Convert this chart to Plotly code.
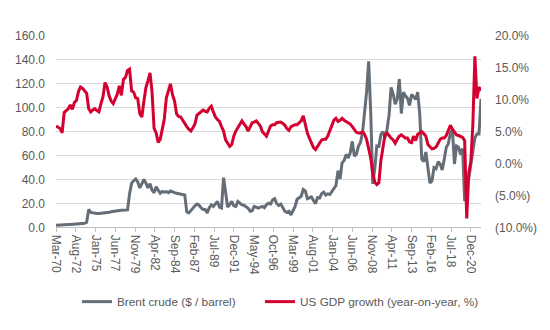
import pandas as pd
import plotly.graph_objects as go

# Quarterly values, Mar-1970 .. Mar-2022 (end of quarter)
brent = [
    1.8, 1.8, 1.9, 2.0,
    2.2, 2.3, 2.4, 2.5,
    2.6, 2.7, 2.8, 2.9,
    3.0, 3.2, 3.5, 4.3,
    15.0, 12.5, 12.0, 11.8,
    11.6, 11.6, 11.7, 11.8,
    12.0, 12.3, 12.6, 13.0,
    13.4, 13.7, 13.9, 14.1,
    14.3, 14.4, 14.5, 14.6,
    28.0, 37.0, 39.0, 40.5,
    38.0, 33.0, 36.5, 40.0,
    37.0, 33.0, 36.5, 31.0,
    29.0, 34.0, 31.0, 28.5,
    30.0, 29.5, 29.9, 29.0,
    30.4, 30.0, 29.0, 28.5,
    28.0, 27.7, 27.5, 27.0,
    13.0, 12.1, 14.0, 16.2,
    18.0, 19.5, 18.5, 16.2,
    15.0, 15.0, 12.1, 16.5,
    18.8, 17.5, 19.5, 21.7,
    17.0, 16.2, 41.6, 28.5,
    17.0, 19.0, 21.7, 18.0,
    17.5, 21.7, 20.5, 18.8,
    18.5, 17.5, 16.0, 13.5,
    14.0, 17.5, 16.5, 16.2,
    17.0, 17.5, 16.5, 19.0,
    20.2, 19.5, 23.0, 24.0,
    20.0, 18.3, 19.5, 17.0,
    13.5, 12.5, 13.5, 10.4,
    14.0, 17.5, 23.5, 25.0,
    26.0, 31.7, 30.5, 24.0,
    25.0, 25.4, 22.5, 19.9,
    25.0, 24.5, 28.2, 29.5,
    27.0, 28.0, 27.5, 30.0,
    32.3, 35.0, 47.3, 40.5,
    54.0, 56.0, 61.0, 58.0,
    62.4, 71.9, 59.6, 61.0,
    67.8, 71.0, 79.0, 94.0,
    113.0, 138.9, 96.5, 36.4,
    49.0, 68.0, 67.8, 77.5,
    80.0, 75.0, 82.0, 94.0,
    117.0, 111.6, 103.0, 107.5,
    123.9, 95.2, 113.0, 110.0,
    108.0, 102.0, 111.0, 109.3,
    107.0, 113.0, 95.0, 57.0,
    55.0, 63.0, 48.0, 37.0,
    39.0, 50.0, 49.0, 55.0,
    53.0, 48.0, 57.0, 67.0,
    70.0, 79.0, 81.5, 53.0,
    68.0, 67.0, 61.0, 66.0,
    22.0, 41.0, 41.0, 52.0,
    63.0, 75.0, 78.0, 78.0,
    107.5,
]

gdp_growth = [
    5.9, 5.7, 5.5, 4.8,
    8.0, 8.3, 8.6, 9.2,
    8.5, 9.6, 9.9, 11.3,
    12.0, 11.8, 11.4, 11.0,
    8.6, 8.1, 8.4, 8.6,
    8.3, 8.1, 9.4, 10.5,
    12.7, 12.0, 10.6, 9.8,
    9.4, 10.3, 10.9, 12.2,
    10.7, 13.2, 13.5, 14.6,
    14.8, 11.4, 11.2, 10.3,
    10.2, 7.8, 7.3, 9.8,
    11.9, 13.0, 14.2, 11.2,
    5.5, 4.8, 3.3, 3.8,
    5.5, 7.0, 10.3, 11.6,
    12.5, 10.8, 9.8, 7.8,
    7.4, 7.3, 6.8, 6.1,
    5.8, 5.4, 5.1, 5.6,
    6.2, 7.6, 7.9, 8.1,
    8.4, 8.2, 8.1, 8.7,
    9.0, 8.1, 7.3, 6.9,
    6.6, 5.8, 5.1, 3.7,
    3.2, 2.7, 3.0, 4.3,
    5.1, 5.6, 6.1, 6.7,
    6.2, 5.8, 5.1, 5.8,
    6.4, 6.5, 6.7, 6.3,
    5.9, 5.0, 4.6, 4.3,
    5.1, 5.9, 6.1, 6.1,
    6.4, 6.5, 6.5, 6.3,
    6.0, 5.5, 5.2, 5.8,
    6.0, 6.1, 6.1, 6.4,
    6.7, 7.5, 6.0, 4.8,
    4.0, 3.2, 2.5, 2.2,
    2.7, 3.2, 3.7, 3.8,
    3.8, 4.3, 5.2, 6.0,
    6.8, 7.1, 6.6, 6.8,
    7.1, 6.8, 6.6, 6.4,
    6.2, 5.8, 5.3, 4.9,
    4.8, 4.8, 5.0, 4.6,
    3.8, 2.5, 0.9, -1.5,
    -2.9, -3.3, -3.0, 0.5,
    2.8, 4.5, 4.8, 4.3,
    4.0, 3.7, 3.2, 3.8,
    4.3, 4.5, 4.3, 4.0,
    4.0, 3.4, 3.3, 4.3,
    3.6, 4.6, 4.8, 5.0,
    4.7, 4.3, 3.0, 2.6,
    2.3, 2.4, 2.6, 3.2,
    3.8, 4.0, 4.0, 4.4,
    5.2, 6.0, 5.4, 4.9,
    4.5, 4.4, 4.3, 4.1,
    3.6, -8.6, -1.5, 0.3,
    6.0, 16.8, 10.2, 12.0,
    11.4,
]

dates = pd.date_range("1970-03-01", periods=len(brent), freq="3MS")

right_tickvals = [-10, -5, 0, 5, 10, 15, 20]
right_ticktext = ["(10.0%)", "(5.0%)", "0.0%", "5.0%", "10.0%", "15.0%", "20.0%"]

series_names = ["Brent crude ($ / barrel)", "US GDP growth (year-on-year, %)"]

FONT = "Liberation Sans"
TXT = "#595959"
GRAY = "#656e77"
RED = "#d4002f"

fig = go.Figure()
fig.add_trace(go.Scatter(
    x=dates, y=brent, name=series_names[0], mode="lines",
    line=dict(color=GRAY, width=3), yaxis="y", legend="legend",
))
fig.add_trace(go.Scatter(
    x=dates, y=gdp_growth, name=series_names[1], mode="lines",
    line=dict(color=RED, width=3), yaxis="y2", legend="legend2",
))

legend_common = dict(
    orientation="h", xref="container", yref="container",
    xanchor="left", y=0.086, yanchor="middle",
    font=dict(family=FONT, size=11.8, color=TXT),
    bgcolor="rgba(0,0,0,0)", borderwidth=0,
)

fig.update_layout(
    width=550, height=330,
    margin=dict(l=56, r=69, t=36, b=98),
    paper_bgcolor="white", plot_bgcolor="white",
    font=dict(family=FONT, size=12, color=TXT),
    showlegend=True,
    legend=dict(x=77 / 550, **legend_common),
    legend2=dict(x=260 / 550, **legend_common),
    xaxis=dict(
        type="date",
        range=[dates[0], dates[-1]],
        tick0="1970-03-01", dtick="M29", tickformat="%b-%y",
        tickangle=90,
        ticks="outside", ticklen=4, tickcolor="#bfbfbf", tickwidth=1,
        showline=True, linecolor="#bfbfbf", linewidth=1,
        showgrid=False, zeroline=False,
        tickfont=dict(family=FONT, size=12, color=TXT),
    ),
    yaxis=dict(
        range=[0, 160], dtick=20, tickformat=".1f",
        showgrid=True, gridcolor="#d9d9d9", gridwidth=1,
        zeroline=False, showline=False, ticks="",
        ticklabelstandoff=10,
        tickfont=dict(family=FONT, size=12, color=TXT),
    ),
    yaxis2=dict(
        overlaying="y", side="right", range=[-10, 20],
        tickvals=right_tickvals, ticktext=right_ticktext,
        showgrid=False, zeroline=False, showline=False, ticks="",
        ticklabelstandoff=13,
        tickfont=dict(family=FONT, size=12, color=TXT),
    ),
)

fig.write_html("out.html")
